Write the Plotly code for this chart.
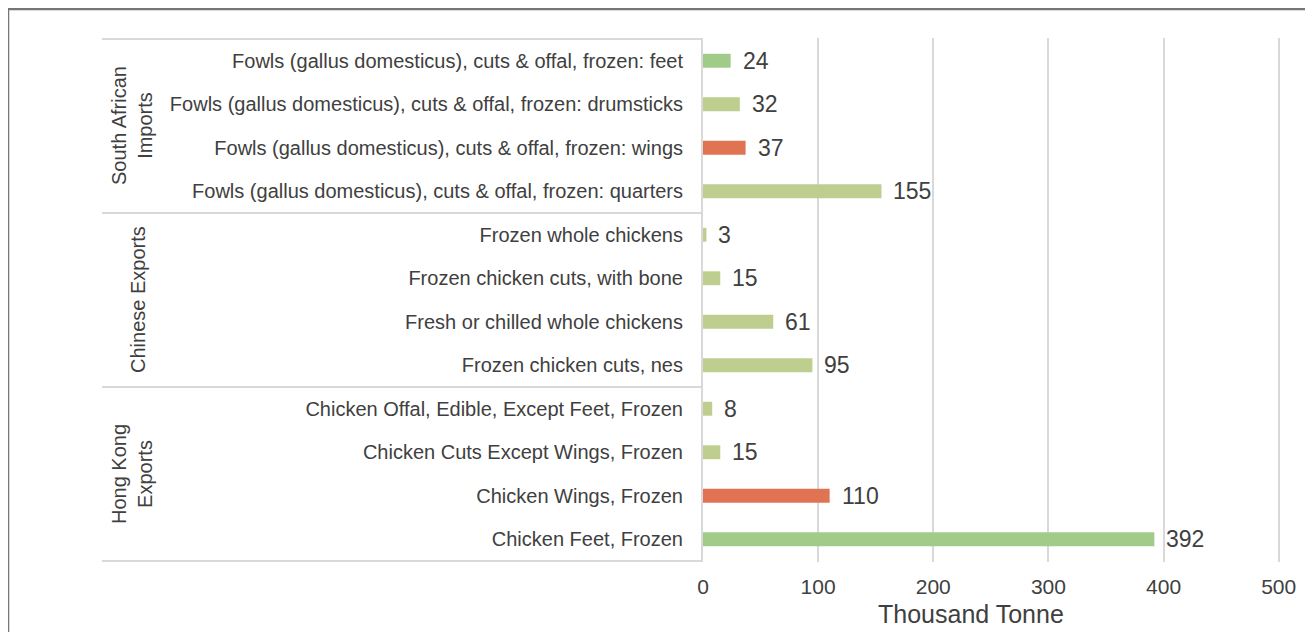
import plotly.graph_objects as go

categories = [
    "Fowls (gallus domesticus), cuts & offal, frozen: feet",
    "Fowls (gallus domesticus), cuts & offal, frozen: drumsticks",
    "Fowls (gallus domesticus), cuts & offal, frozen: wings",
    "Fowls (gallus domesticus), cuts & offal, frozen: quarters",
    "Frozen whole chickens",
    "Frozen chicken cuts, with bone",
    "Fresh or chilled whole chickens",
    "Frozen chicken cuts, nes",
    "Chicken Offal, Edible, Except Feet, Frozen",
    "Chicken Cuts Except Wings, Frozen",
    "Chicken Wings, Frozen",
    "Chicken Feet, Frozen",
]
values = [24, 32, 37, 155, 3, 15, 61, 95, 8, 15, 110, 392]
kinds = ["feet", "other", "wings", "other", "other", "other", "other", "other",
         "other", "other", "wings", "feet"]
groups = ["South African<br>Imports", "Chinese Exports", "Hong Kong<br>Exports"]
group_sizes = [4, 4, 4]
x_ticks = [0, 100, 200, 300, 400, 500]
x_title = "Thousand Tonne"

color_map = {"feet": "#A1CB88", "other": "#BECE8F", "wings": "#E07352"}
colors = [color_map[k] for k in kinds]

# page has an 8px body margin; work in figure pixels
W, H = 1305, 624
L, R, T, B = 695, 32, 30, 70
pw = W - L - R
ph = H - T - B

FONT = "Liberation Sans, Arial"
font_color = "#404040"
line_color = "#D9D9D9"

fig = go.Figure()
fig.add_trace(go.Bar(
    y=categories, x=values, orientation="h",
    marker=dict(color=colors, line=dict(width=0)),
    hoverinfo="x+y", showlegend=False,
))

for c, v in zip(categories, values):
    fig.add_annotation(x=v, y=c, xref="x", yref="y", text=str(v),
                       showarrow=False, xanchor="left", xshift=10,
                       font=dict(family=FONT, size=23, color=font_color))

def px_to_paper_x(px):
    return (px - L) / pw

def py_to_paper_y(py):
    return 1 - (py - T) / ph

# group separators
pos = -0.5
bounds = [pos]
for s in group_sizes:
    pos += s
    bounds.append(pos)
for b in bounds:
    fig.add_shape(type="line", xref="paper", yref="y",
                  x0=px_to_paper_x(94), x1=0, y0=b, y1=b,
                  line=dict(color=line_color, width=2), layer="below")

# group labels
start = -0.5
for g, s in zip(groups, group_sizes):
    mid = start + s / 2
    start += s
    gx = 124 if "<br>" in g else 130
    fig.add_annotation(x=px_to_paper_x(gx), y=mid, xref="paper", yref="y",
                       text=g, showarrow=False, textangle=-90,
                       font=dict(family=FONT, size=20, color=font_color),
                       xanchor="center", yanchor="middle")

# axis title
fig.add_annotation(x=px_to_paper_x(963), y=py_to_paper_y(606), xref="paper", yref="paper",
                   text=x_title, showarrow=False, xanchor="center", yanchor="middle",
                   font=dict(family=FONT, size=25, color=font_color))

# outer frame
fig.add_shape(type="rect", xref="paper", yref="paper",
              x0=px_to_paper_x(0), x1=px_to_paper_x(1330),
              y0=py_to_paper_y(650), y1=py_to_paper_y(1),
              line=dict(color="#767676", width=2.5), fillcolor="rgba(0,0,0,0)")

fig.update_layout(
    width=W, height=H,
    margin=dict(l=L, r=R, t=T, b=B, autoexpand=False),
    paper_bgcolor="white", plot_bgcolor="white",
    bargap=0.68,
    font=dict(family=FONT, color=font_color),
    xaxis=dict(range=[0, 502], tickvals=x_ticks, showgrid=True,
               gridcolor=line_color, gridwidth=2, zeroline=False, showline=False,
               tickfont=dict(size=21, color=font_color),
               ticklabelstandoff=10),
    yaxis=dict(autorange="reversed", showgrid=False, showline=True,
               linecolor=line_color, linewidth=2, zeroline=False,
               tickfont=dict(size=20, color=font_color), ticklabelstandoff=14),
)

fig.write_html("out.html")
